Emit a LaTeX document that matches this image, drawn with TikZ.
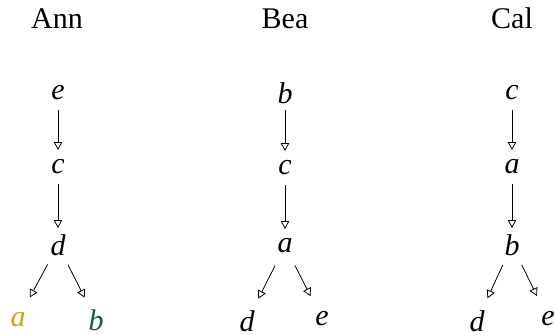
\documentclass[tikz,border=0pt]{standalone}
\usepackage{fontspec}
\setmainfont{Liberation Serif}
\usetikzlibrary{arrows.meta}
\definecolor{goldA}{RGB}{212,160,23}
\definecolor{tealB}{RGB}{22,88,76}
\tikzset{
  lbl/.style={inner sep=0pt, font=\fontsize{30}{35}\selectfont\itshape},
  ttl/.style={inner sep=0pt, anchor=base, font=\fontsize{30}{35}\selectfont},
  arr/.style={line width=0.8pt, -{Triangle[open, length=8pt, width=8.5pt, line width=0.8pt]}},
  vert/.style={arr, shorten <=17pt, shorten >=17pt},
  diag/.style={arr, shorten <=22pt, shorten >=25pt}
}
\begin{document}
\begin{tikzpicture}[x=1pt, y=-1pt]
\useasboundingbox (0,0) rectangle (555,335);
% titles
\node[ttl] (tA) at (57,28) {Ann};
\node[ttl] (tB) at (285,28) {Bea};
\node[ttl] (tC) at (512,28) {Cal};
% Ann
\node[lbl] (Ae) at (58,93) {e};
\node[lbl] (Ac) at (58,167) {c};
\node[lbl] (Ad) at (58,245) {d};
\node[lbl, text=goldA] (Aa) at (18,319.5) {a};
\node[lbl, text=tealB] (Ab) at (96,320) {b};
\draw[vert] (Ae.center) -- (Ac.center);
\draw[vert] (Ac.center) -- (Ad.center);
\draw[diag] (Ad.center) -- (Aa.center);
\draw[diag] (Ad.center) -- (Ab.center);
% Bea
\node[lbl] (Bb) at (285,93) {b};
\node[lbl] (Bc) at (285,168) {c};
\node[lbl] (Ba) at (285,246) {a};
\node[lbl] (Bd) at (247,321) {d};
\node[lbl] (Be) at (322,318.5) {e};
\draw[vert] (Bb.center) -- (Bc.center);
\draw[vert] (Bc.center) -- (Ba.center);
\draw[diag] (Ba.center) -- (Bd.center);
\draw[diag] (Ba.center) -- (Be.center);
% Cal
\node[lbl] (Cc) at (512,93) {c};
\node[lbl] (Ca) at (512,167) {a};
\node[lbl] (Cb) at (512,245) {b};
\node[lbl] (Cd) at (477,321) {d};
\node[lbl] (Ce) at (548,318.5) {e};
\draw[vert] (Cc.center) -- (Ca.center);
\draw[vert] (Ca.center) -- (Cb.center);
\draw[diag] (Cb.center) -- (Cd.center);
\draw[diag] (Cb.center) -- (Ce.center);
\end{tikzpicture}
\end{document}
